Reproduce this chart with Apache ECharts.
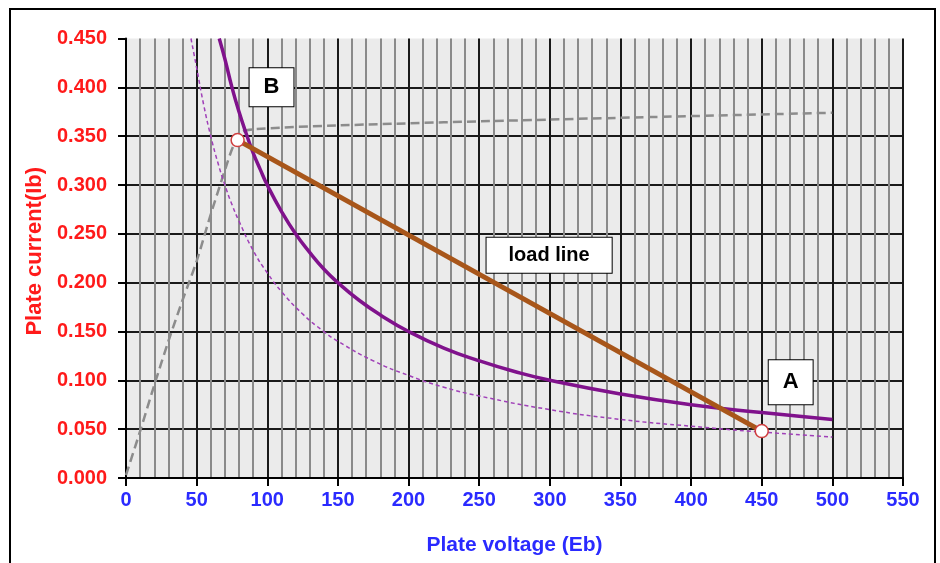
<!DOCTYPE html>
<html><head><meta charset="utf-8">
<script src="https://cdn.jsdelivr.net/npm/echarts@6/dist/echarts.min.js"></script>
<style>html,body{margin:0;padding:0;background:#fff}#c{width:940px;height:563px}</style>
</head><body><div id="c"></div>
<script>
// ---- data ----
const xTickLabels = ['0','50','100','150','200','250','300','350','400','450','500','550'];
const yTickLabels = ['0.000','0.050','0.100','0.150','0.200','0.250','0.300','0.350','0.400','0.450'];

// solid purple plate-dissipation curve
const curveSolidEb = [66, 70, 75, 80, 85, 90, 95, 100, 110, 120, 130, 140, 150, 165, 180, 200, 225, 250, 275, 300, 350, 400, 450, 500];
const curveSolidIb = [0.450, 0.429, 0.400, 0.375, 0.353, 0.333, 0.316, 0.300, 0.273, 0.250, 0.231, 0.214, 0.200, 0.182, 0.167, 0.150, 0.133, 0.120, 0.109, 0.100, 0.086, 0.075, 0.067, 0.060];

// dashed thin purple curve
const curveDashEb = [46, 50, 55, 60, 65, 70, 75, 80, 90, 100, 110, 125, 140, 150, 175, 200, 225, 250, 300, 350, 400, 450, 500];
const curveDashIb = [0.450, 0.420, 0.382, 0.350, 0.323, 0.300, 0.280, 0.263, 0.233, 0.210, 0.191, 0.168, 0.150, 0.140, 0.120, 0.105, 0.093, 0.084, 0.070, 0.060, 0.053, 0.047, 0.042];

// gray dashed plate characteristic
const plateEb = [0, 10, 20, 30, 40, 50, 60, 70, 76, 82, 90, 150, 300, 500];
const plateIb = [0.003, 0.048, 0.095, 0.140, 0.182, 0.222, 0.270, 0.315, 0.340, 0.354, 0.357, 0.361, 0.367, 0.374];

// load line end points B and A
const loadEb = [79, 450];
const loadIb = [0.346, 0.048];

// annotation boxes
const noteText = ['B', 'A', 'load line'];
const noteEb = [103, 470.5, 299.5];
const noteIb = [0.400, 0.098, 0.228];

const zip = (a, b) => a.map((v, i) => [v, b[i]]);

const chart = echarts.init(document.getElementById('c'), null, {renderer: 'canvas'});
const labelFont = 'Liberation Sans, Arial, sans-serif';

const noteStyles = [
  {fontSize: 22, fontWeight: 'bold', padding: [9, 14, 7, 14]},
  {fontSize: 22, fontWeight: 'bold', padding: [11, 14, 11, 14]},
  {fontSize: 20, fontWeight: 'bold', padding: [8, 22, 7, 22]}
];

chart.setOption({
  animation: false,
  backgroundColor: '#ffffff',
  graphic: [{
    type: 'rect', z: -10, silent: true,
    shape: {x: 10, y: 9, width: 925, height: 570},
    style: {fill: 'none', stroke: '#000', lineWidth: 2}
  }],
  grid: {
    left: 126, right: 37, top: 38.5, bottom: 85,
    show: true, borderWidth: 0,
    backgroundColor: '#ebebeb'
  },
  xAxis: {
    type: 'value', min: 0, max: 550, interval: 50,
    name: 'Plate voltage (Eb)', nameLocation: 'middle', nameGap: 57,
    nameTextStyle: {color: '#2a2aff', fontWeight: 'bold', fontSize: 21, fontFamily: labelFont},
    axisLine: {show: true, onZero: false, lineStyle: {color: '#000', width: 2}},
    axisTick: {show: true, length: 8, lineStyle: {color: '#000', width: 2}},
    axisLabel: {color: '#2a2aff', fontWeight: 'bold', fontSize: 20, fontFamily: labelFont, margin: 12,
      formatter: (v, i) => xTickLabels[i]},
    splitLine: {show: true, lineStyle: {color: '#1a1a1a', width: 2}},
    minorTick: {show: false, splitNumber: 5},
    minorSplitLine: {show: true, lineStyle: {color: '#8a8a8a', width: 2}}
  },
  yAxis: {
    type: 'value', min: 0, max: 0.45, interval: 0.05,
    name: 'Plate current(Ib)', nameLocation: 'middle', nameGap: 80, nameRotate: 90,
    nameTextStyle: {color: '#ff1a1a', fontWeight: 'bold', fontSize: 22, fontFamily: labelFont, padding: [0, 0, 0, 14]},
    axisLine: {show: true, onZero: false, lineStyle: {color: '#000', width: 2}},
    axisTick: {show: true, length: 8, lineStyle: {color: '#000', width: 2}},
    axisLabel: {color: '#ff1a1a', fontWeight: 'bold', fontSize: 20, fontFamily: labelFont, margin: 19,
      formatter: (v, i) => yTickLabels[i]},
    splitLine: {show: true, showMaxLine: false, lineStyle: {color: '#1a1a1a', width: 2}}
  },
  series: [
    {
      type: 'line', name: 'plate', data: zip(plateEb, plateIb), smooth: 0.3,
      showSymbol: false, z: 3,
      lineStyle: {color: '#8c8c8c', width: 2.5, type: [9, 5]}
    },
    {
      type: 'line', name: 'dash', data: zip(curveDashEb, curveDashIb), smooth: true,
      showSymbol: false, z: 4,
      lineStyle: {color: '#a040b8', width: 1.5, type: [4, 3]}
    },
    {
      type: 'line', name: 'solid', data: zip(curveSolidEb, curveSolidIb), smooth: true,
      showSymbol: false, z: 5,
      lineStyle: {color: '#80128c', width: 3.5}
    },
    {
      type: 'line', name: 'load', data: zip(loadEb, loadIb),
      symbol: 'circle', symbolSize: 13, showSymbol: true, z: 6,
      lineStyle: {color: '#a8561a', width: 5},
      itemStyle: {color: '#ffffff', borderColor: '#d04040', borderWidth: 1.5}
    },
    {
      type: 'scatter', name: 'notes', z: 8, symbolSize: 1,
      itemStyle: {opacity: 1, color: 'rgba(0,0,0,0)'},
      data: noteText.map((t, i) => ({
        name: t, value: [noteEb[i], noteIb[i]],
        label: Object.assign({}, noteStyles[i])
      })),
      label: {
        show: true, position: 'inside', formatter: p => p.name,
        color: '#000', fontFamily: labelFont, opacity: 1,
        backgroundColor: '#ffffff', borderColor: '#000', borderWidth: 1
      }
    }
  ]
});
</script>
</body></html>
